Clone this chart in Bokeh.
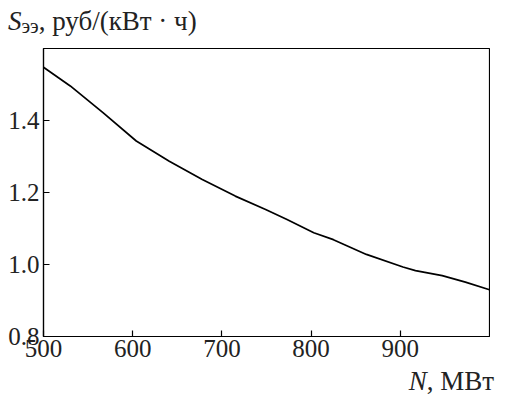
from bokeh.plotting import figure
from bokeh.models import FixedTicker, Range1d, NumeralTickFormatter, Div
from bokeh.layouts import column
from bokeh.embed import file_html
from bokeh.resources import INLINE

# Data
N_mw = [500, 530, 567, 604, 641, 678, 715, 749, 773, 803, 825, 862, 903, 917, 947, 973, 1000]
S_ee = [1.548, 1.496, 1.421, 1.343, 1.287, 1.236, 1.190, 1.153, 1.125, 1.088, 1.069, 1.028,
        0.993, 0.983, 0.969, 0.951, 0.930]

x_ticks = [500, 600, 700, 800, 900]
y_ticks = [0.8, 1.0, 1.2, 1.4]

y_title_html = ("<i>S</i><sub style='font-size:20px;vertical-align:-3px;line-height:0'>ээ</sub>"
                ", руб/(кВт · ч)")
x_title_html = "<i>N</i>, МВт"

FONT = "Liberation Serif"
FS = "25px"

p = figure(width=490, height=328, output_backend="svg", toolbar_location=None,
           x_range=Range1d(500, 1000), y_range=Range1d(0.8, 1.6),
           min_border_left=43, min_border_right=1, min_border_top=8, min_border_bottom=32)

p.line(N_mw, S_ee, line_color="black", line_width=1.7)

p.xgrid.visible = False
p.ygrid.visible = False
p.outline_line_color = "black"
p.outline_line_width = 1.2
p.background_fill_color = "white"
p.border_fill_color = "white"

for ax in (p.xaxis[0], p.yaxis[0]):
    ax.axis_line_color = "black"
    ax.axis_line_width = 1.2
    ax.major_tick_in = 6
    ax.major_tick_out = 0
    ax.major_tick_line_color = "black"
    ax.major_tick_line_width = 1.2
    ax.minor_tick_line_color = None
    ax.major_label_text_font = FONT
    ax.major_label_text_font_size = FS
    ax.major_label_text_color = "#222222"

p.xaxis[0].ticker = FixedTicker(ticks=x_ticks)
p.yaxis[0].ticker = FixedTicker(ticks=y_ticks)
p.yaxis[0].formatter = NumeralTickFormatter(format="0.0")
p.xaxis[0].major_label_standoff = 3
p.yaxis[0].major_label_standoff = 4

top = Div(text=f"<div style=\"font-family:'Liberation Serif';font-size:27px;line-height:30px;"
               f"color:#222222;padding-left:3px;padding-top:1px;white-space:nowrap\">{y_title_html}</div>",
          width=490, height=30)
bottom = Div(text=f"<div style=\"font-family:'Liberation Serif';font-size:27px;line-height:21px;"
                  f"color:#222222;text-align:right;width:489px;white-space:nowrap;"
                  f"position:relative;top:-2px\">{x_title_html}</div>",
             width=490, height=21)

layout = column(top, p, bottom, spacing=0)
open("out.html", "w").write(file_html(layout, INLINE))
